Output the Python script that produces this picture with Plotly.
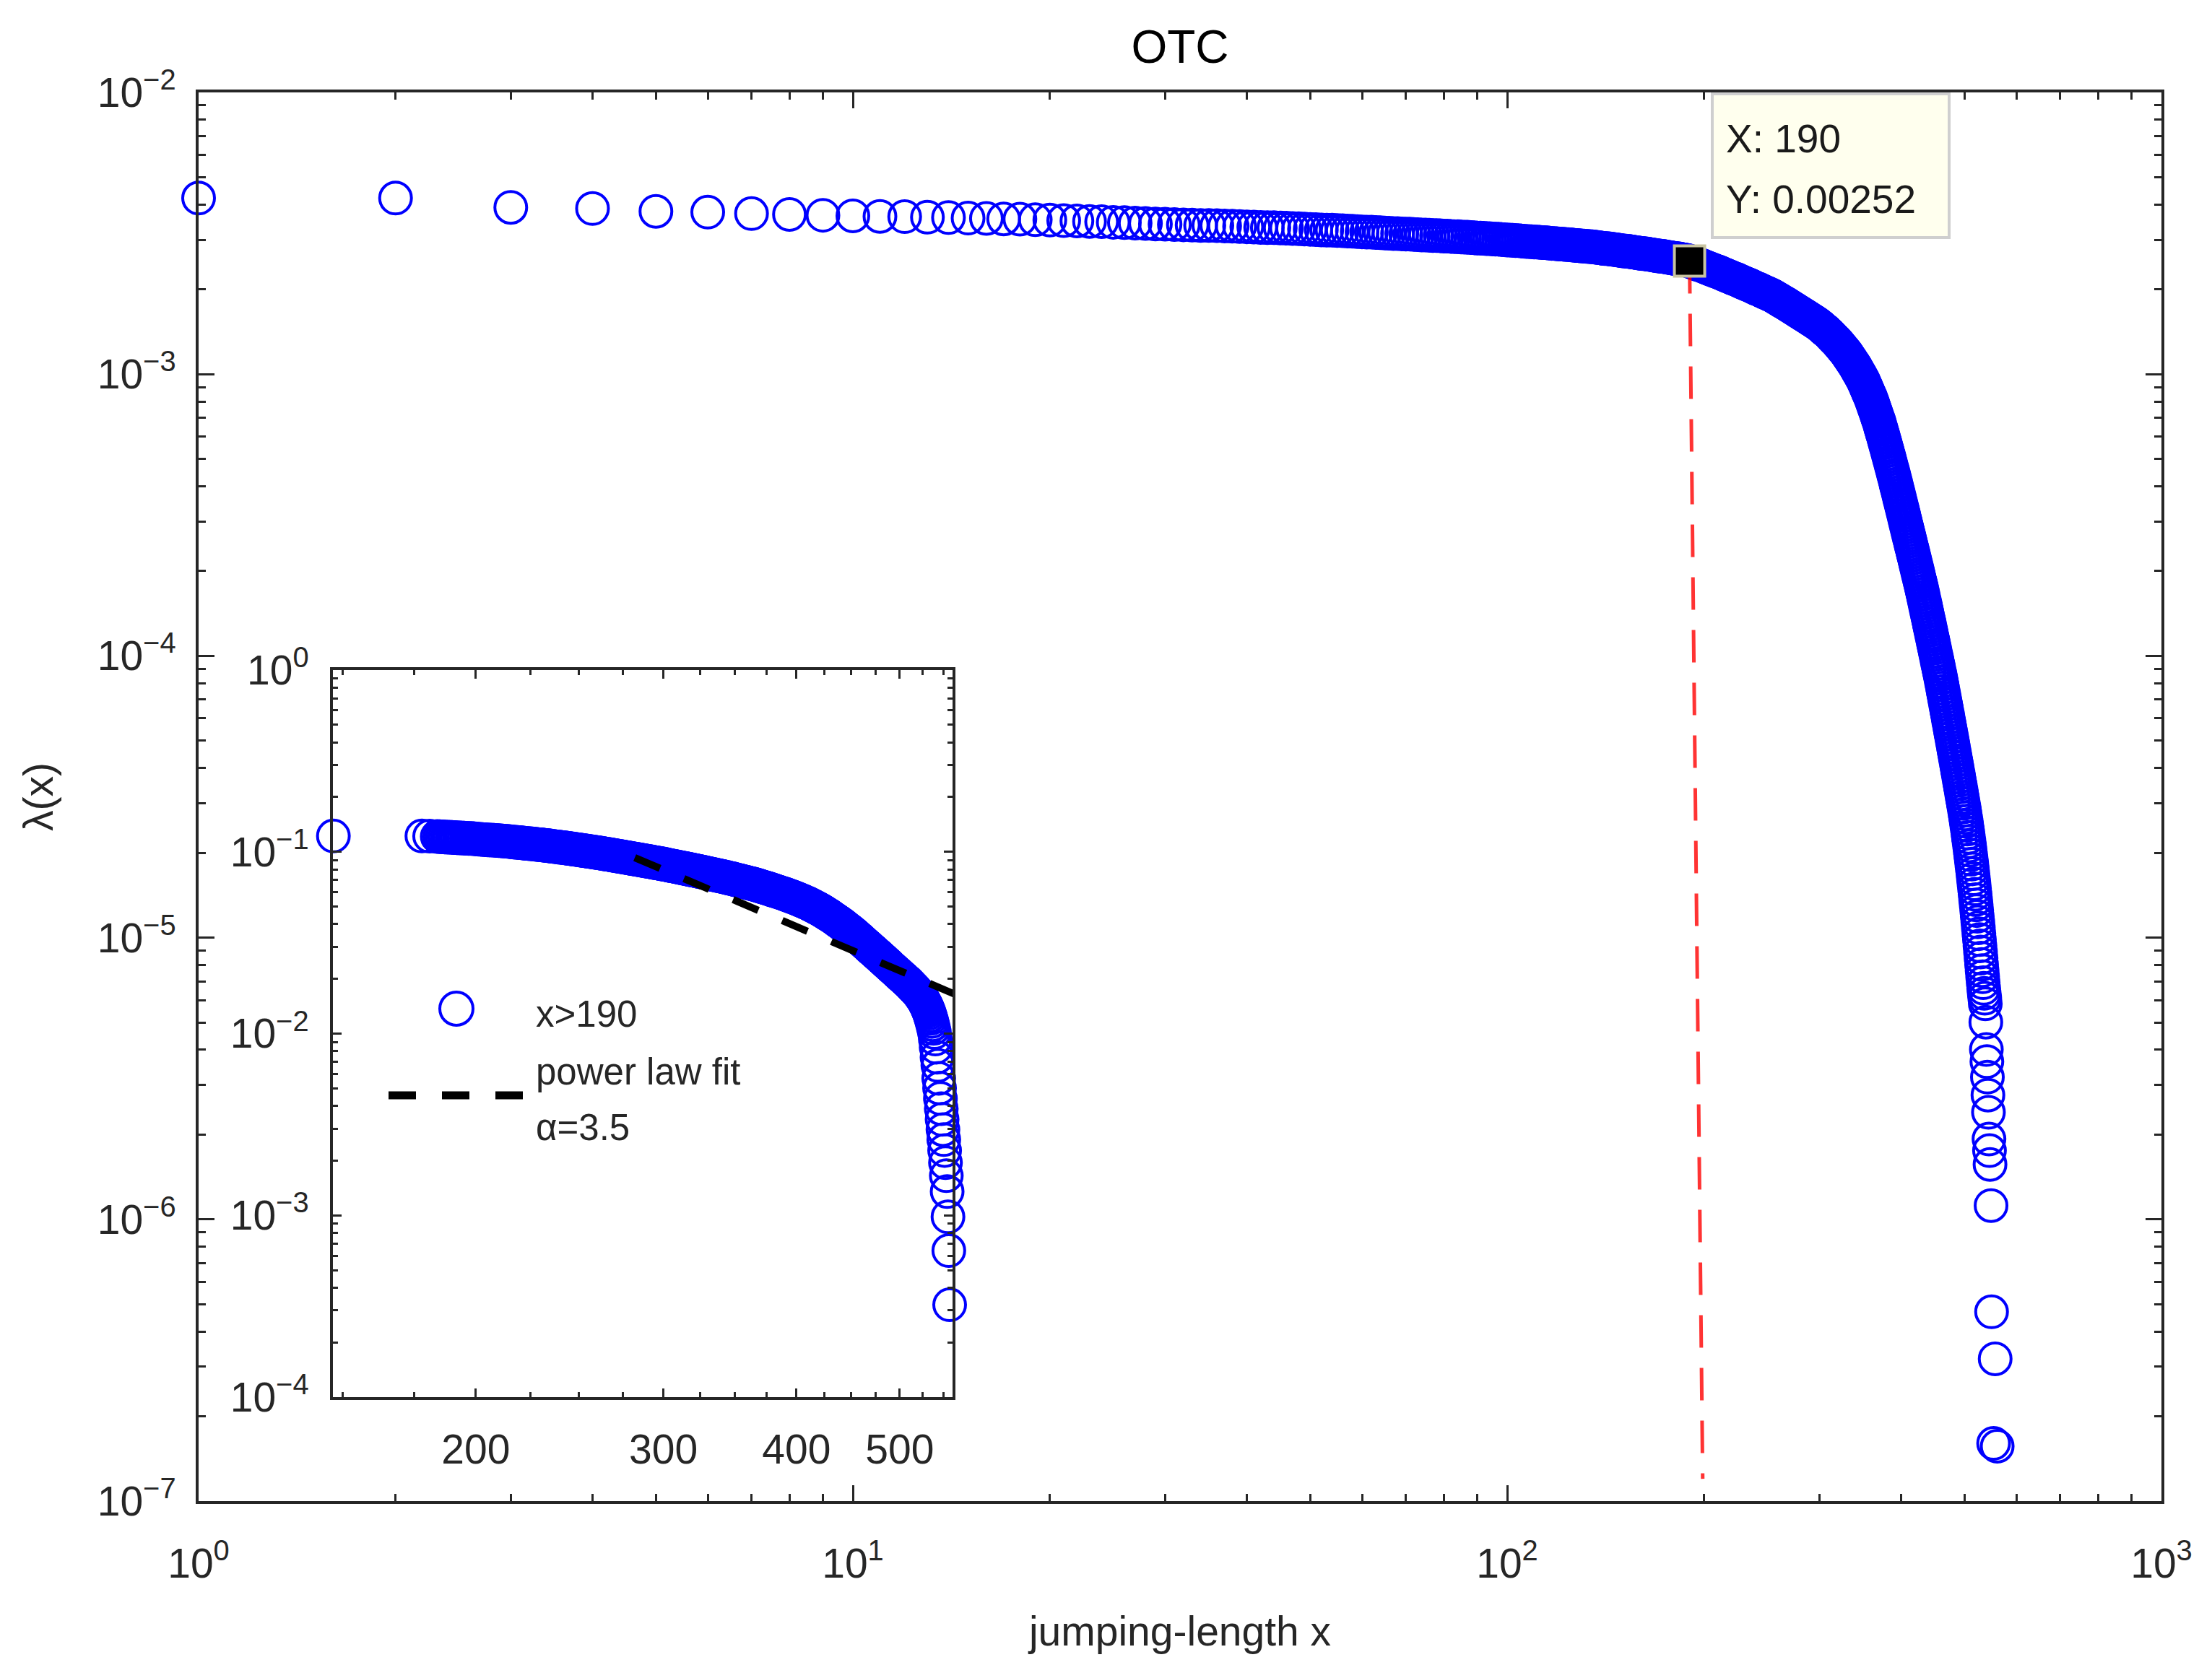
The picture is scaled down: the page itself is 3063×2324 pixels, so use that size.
import plotly.graph_objects as go

# ---------------- data ----------------
# main panel: jumping length x and log10 of lambda(x)
jump_len = list(range(1, 548)) + [549, 550, 557, 554, 561]
lam_log10 = [
    -2.375, -2.375, -2.408, -2.412, -2.422, -2.425, -2.430, -2.433, -2.436, -2.438,
    -2.440, -2.441, -2.443, -2.444, -2.446, -2.447, -2.449, -2.450, -2.452, -2.453,
    -2.455, -2.456, -2.458, -2.459, -2.461, -2.462, -2.464, -2.465, -2.467, -2.468,
    -2.469, -2.470, -2.471, -2.472, -2.472, -2.473, -2.474, -2.475, -2.476, -2.477,
    -2.478, -2.479, -2.480, -2.480, -2.481, -2.482, -2.483, -2.484, -2.485, -2.486,
    -2.487, -2.488, -2.489, -2.489, -2.490, -2.491, -2.492, -2.493, -2.494, -2.495,
    -2.496, -2.496, -2.497, -2.498, -2.499, -2.500, -2.501, -2.501, -2.502, -2.503,
    -2.503, -2.504, -2.505, -2.506, -2.506, -2.507, -2.508, -2.508, -2.509, -2.510,
    -2.510, -2.511, -2.512, -2.512, -2.513, -2.514, -2.514, -2.515, -2.516, -2.517,
    -2.517, -2.518, -2.519, -2.519, -2.520, -2.521, -2.521, -2.522, -2.523, -2.524,
    -2.524, -2.525, -2.526, -2.526, -2.527, -2.528, -2.529, -2.529, -2.530, -2.531,
    -2.531, -2.532, -2.533, -2.533, -2.534, -2.535, -2.536, -2.536, -2.537, -2.538,
    -2.538, -2.539, -2.540, -2.540, -2.541, -2.542, -2.543, -2.543, -2.544, -2.545,
    -2.545, -2.546, -2.547, -2.547, -2.548, -2.549, -2.550, -2.551, -2.552, -2.553,
    -2.554, -2.554, -2.555, -2.556, -2.557, -2.558, -2.559, -2.560, -2.561, -2.562,
    -2.563, -2.563, -2.564, -2.565, -2.566, -2.567, -2.568, -2.569, -2.570, -2.571,
    -2.572, -2.572, -2.573, -2.574, -2.575, -2.576, -2.577, -2.578, -2.579, -2.580,
    -2.581, -2.581, -2.582, -2.583, -2.584, -2.585, -2.586, -2.587, -2.588, -2.589,
    -2.590, -2.590, -2.591, -2.592, -2.593, -2.594, -2.595, -2.596, -2.597, -2.599,
    -2.601, -2.603, -2.605, -2.607, -2.609, -2.611, -2.612, -2.614, -2.616, -2.618,
    -2.620, -2.622, -2.624, -2.626, -2.628, -2.630, -2.632, -2.634, -2.635, -2.637,
    -2.639, -2.641, -2.643, -2.645, -2.647, -2.649, -2.651, -2.653, -2.655, -2.657,
    -2.659, -2.661, -2.662, -2.664, -2.666, -2.668, -2.670, -2.672, -2.674, -2.676,
    -2.678, -2.680, -2.681, -2.683, -2.685, -2.687, -2.689, -2.691, -2.693, -2.695,
    -2.697, -2.698, -2.700, -2.702, -2.704, -2.706, -2.708, -2.710, -2.712, -2.713,
    -2.715, -2.717, -2.719, -2.721, -2.723, -2.725, -2.728, -2.730, -2.732, -2.735,
    -2.737, -2.739, -2.742, -2.744, -2.746, -2.748, -2.751, -2.753, -2.755, -2.758,
    -2.760, -2.762, -2.765, -2.767, -2.769, -2.772, -2.774, -2.776, -2.779, -2.781,
    -2.783, -2.785, -2.788, -2.790, -2.792, -2.794, -2.797, -2.799, -2.801, -2.803,
    -2.806, -2.808, -2.810, -2.812, -2.815, -2.817, -2.819, -2.821, -2.824, -2.826,
    -2.829, -2.832, -2.835, -2.838, -2.841, -2.843, -2.846, -2.849, -2.852, -2.855,
    -2.858, -2.862, -2.865, -2.868, -2.872, -2.875, -2.878, -2.881, -2.885, -2.888,
    -2.892, -2.895, -2.899, -2.903, -2.907, -2.910, -2.914, -2.918, -2.921, -2.925,
    -2.930, -2.934, -2.939, -2.943, -2.948, -2.952, -2.957, -2.961, -2.966, -2.970,
    -2.975, -2.980, -2.986, -2.991, -2.996, -3.001, -3.006, -3.012, -3.017, -3.022,
    -3.029, -3.035, -3.042, -3.048, -3.055, -3.062, -3.068, -3.075, -3.081, -3.088,
    -3.096, -3.104, -3.112, -3.120, -3.128, -3.136, -3.144, -3.152, -3.160, -3.168,
    -3.177, -3.187, -3.196, -3.206, -3.215, -3.224, -3.234, -3.243, -3.253, -3.262,
    -3.272, -3.282, -3.291, -3.301, -3.311, -3.321, -3.331, -3.340, -3.350, -3.360,
    -3.370, -3.380, -3.391, -3.401, -3.411, -3.421, -3.431, -3.442, -3.452, -3.462,
    -3.472, -3.482, -3.492, -3.502, -3.513, -3.523, -3.533, -3.543, -3.553, -3.563,
    -3.573, -3.583, -3.593, -3.603, -3.613, -3.622, -3.632, -3.642, -3.652, -3.662,
    -3.672, -3.682, -3.691, -3.701, -3.711, -3.721, -3.731, -3.740, -3.750, -3.760,
    -3.771, -3.781, -3.792, -3.803, -3.813, -3.824, -3.835, -3.845, -3.856, -3.867,
    -3.877, -3.888, -3.899, -3.909, -3.920, -3.931, -3.941, -3.952, -3.963, -3.973,
    -3.984, -3.995, -4.005, -4.016, -4.027, -4.037, -4.048, -4.059, -4.069, -4.080,
    -4.092, -4.103, -4.115, -4.127, -4.138, -4.150, -4.162, -4.173, -4.185, -4.197,
    -4.208, -4.220, -4.232, -4.243, -4.255, -4.267, -4.278, -4.290, -4.302, -4.313,
    -4.325, -4.337, -4.348, -4.360, -4.372, -4.383, -4.395, -4.407, -4.418, -4.430,
    -4.442, -4.454, -4.465, -4.477, -4.489, -4.501, -4.512, -4.524, -4.536, -4.548,
    -4.561, -4.574, -4.587, -4.601, -4.615, -4.629, -4.644, -4.659, -4.674, -4.690,
    -4.706, -4.722, -4.739, -4.756, -4.773, -4.791, -4.809, -4.827, -4.846, -4.865,
    -4.884, -4.904, -4.924, -4.944, -4.965, -4.986, -5.007, -5.029, -5.051, -5.073,
    -5.095, -5.117, -5.139, -5.160, -5.180, -5.198, -5.215, -5.235, -5.300, -5.397,
    -5.440, -5.495, -5.559, -5.620, -5.715, -5.756, -5.805,
    -5.951, -6.328, -6.495, -6.795, -6.805,
]
lam = [10.0 ** v for v in lam_log10]

# data tip / cut-off
tip_x = 190
tip_y = 0.00252
cut_line_x = [190, 199]
cut_line_y = [0.00252, 1.2e-7]

# inset panel: tail region, log10 of the plotted distribution
inset_x = [147, 178, 181, 184, 185] + list(range(186, 558))
inset_log10 = [
    -0.913, -0.913, -0.914, -0.916, -0.917,
    -0.918, -0.919, -0.920, -0.920, -0.921,
    -0.922, -0.923, -0.924, -0.924, -0.925, -0.926, -0.927, -0.927, -0.928, -0.929,
    -0.930, -0.931, -0.932, -0.933, -0.934, -0.935, -0.935, -0.936, -0.937, -0.938,
    -0.939, -0.940, -0.941, -0.942, -0.943, -0.945, -0.946, -0.947, -0.948, -0.949,
    -0.950, -0.952, -0.953, -0.954, -0.955, -0.956, -0.957, -0.959, -0.960, -0.961,
    -0.962, -0.964, -0.965, -0.966, -0.968, -0.969, -0.971, -0.972, -0.973, -0.975,
    -0.976, -0.977, -0.979, -0.980, -0.982, -0.983, -0.985, -0.986, -0.988, -0.989,
    -0.991, -0.992, -0.994, -0.995, -0.997, -0.998, -1.000, -1.001, -1.003, -1.004,
    -1.006, -1.007, -1.009, -1.011, -1.012, -1.014, -1.015, -1.017, -1.019, -1.020,
    -1.022, -1.024, -1.025, -1.027, -1.028, -1.030, -1.032, -1.033, -1.035, -1.037,
    -1.038, -1.040, -1.041, -1.043, -1.044, -1.046, -1.048, -1.049, -1.051, -1.052,
    -1.054, -1.055, -1.057, -1.059, -1.060, -1.062, -1.063, -1.065, -1.066, -1.068,
    -1.070, -1.071, -1.073, -1.075, -1.076, -1.078, -1.079, -1.081, -1.083, -1.084,
    -1.086, -1.088, -1.089, -1.091, -1.092, -1.094, -1.096, -1.097, -1.099, -1.101,
    -1.102, -1.104, -1.106, -1.107, -1.109, -1.111, -1.112, -1.114, -1.116, -1.118,
    -1.119, -1.121, -1.123, -1.124, -1.126, -1.128, -1.129, -1.131, -1.133, -1.134,
    -1.136, -1.138, -1.139, -1.141, -1.143, -1.145, -1.147, -1.148, -1.150, -1.152,
    -1.154, -1.156, -1.157, -1.159, -1.161, -1.163, -1.165, -1.166, -1.168, -1.170,
    -1.172, -1.174, -1.175, -1.177, -1.179, -1.181, -1.183, -1.185, -1.187, -1.190,
    -1.192, -1.194, -1.196, -1.198, -1.200, -1.202, -1.204, -1.207, -1.209, -1.211,
    -1.213, -1.215, -1.217, -1.219, -1.221, -1.224, -1.226, -1.228, -1.230, -1.232,
    -1.234, -1.237, -1.239, -1.242, -1.244, -1.246, -1.249, -1.251, -1.254, -1.256,
    -1.259, -1.262, -1.264, -1.267, -1.270, -1.272, -1.275, -1.278, -1.281, -1.283,
    -1.286, -1.290, -1.293, -1.296, -1.299, -1.302, -1.306, -1.309, -1.312, -1.315,
    -1.319, -1.322, -1.326, -1.330, -1.333, -1.337, -1.341, -1.345, -1.348, -1.352,
    -1.356, -1.360, -1.364, -1.368, -1.372, -1.376, -1.380, -1.384, -1.388, -1.392,
    -1.397, -1.401, -1.406, -1.410, -1.415, -1.419, -1.424, -1.428, -1.433, -1.437,
    -1.442, -1.447, -1.451, -1.456, -1.461, -1.466, -1.471, -1.476, -1.481, -1.485,
    -1.490, -1.495, -1.500, -1.505, -1.510, -1.514, -1.519, -1.524, -1.529, -1.534,
    -1.539, -1.543, -1.548, -1.553, -1.558, -1.563, -1.567, -1.572, -1.577, -1.582,
    -1.587, -1.592, -1.596, -1.601, -1.606, -1.611, -1.616, -1.620, -1.625, -1.630,
    -1.635, -1.639, -1.644, -1.648, -1.653, -1.658, -1.662, -1.667, -1.671, -1.676,
    -1.681, -1.685, -1.690, -1.694, -1.699, -1.704, -1.708, -1.713, -1.717, -1.722,
    -1.727, -1.732, -1.738, -1.743, -1.748, -1.753, -1.758, -1.764, -1.769, -1.774,
    -1.780, -1.786, -1.793, -1.800, -1.807, -1.815, -1.823, -1.832, -1.841, -1.851,
    -1.862, -1.874, -1.887, -1.901, -1.916, -1.933, -1.951, -1.971, -1.994, -2.030,
    -2.075, -2.130, -2.175, -2.246, -2.300, -2.357, -2.413, -2.472, -2.528, -2.583,
    -2.643, -2.710, -2.782, -2.869, -3.008, -3.194, -3.492,
]
inset_y = [10.0 ** v for v in inset_log10]

# power-law fit (alpha = 3.5) end points as read in the inset
fit_x = [282, 600]
fit_y = [0.0929, 0.01406]

legend_labels = ["x>190", "power law fit", "\u03b1=3.5"]

main_xtick_vals = [1, 10, 100, 1000]
main_xtick_text = ["10<sup>0</sup>", "10<sup>1</sup>", "10<sup>2</sup>", "10<sup>3</sup>"]
main_ytick_vals = [1e-7, 1e-6, 1e-5, 1e-4, 1e-3, 1e-2]
main_ytick_text = ["10<sup>\u22127</sup>", "10<sup>\u22126</sup>", "10<sup>\u22125</sup>",
                   "10<sup>\u22124</sup>", "10<sup>\u22123</sup>", "10<sup>\u22122</sup>"]
inset_xtick_vals = [200, 300, 400, 500]
inset_xtick_text = ["200", "300", "400", "500"]
inset_xminor_vals = [150, 175, 225, 250, 275, 325, 350, 375, 425, 450, 475, 525, 550]
inset_ytick_vals = [1e-4, 1e-3, 1e-2, 1e-1, 1]
inset_ytick_text = ["10<sup>\u22124</sup>", "10<sup>\u22123</sup>", "10<sup>\u22122</sup>",
                    "10<sup>\u22121</sup>", "10<sup>0</sup>"]

# ---------------- layout geometry (pixels of the 3063x2324 page) ----------------
W, H = 3063, 2324
L, R, T, B = 267, 2985, 120, 2071


def pxx(p):
    return (p - L) / (R - L)


def pxy(p):
    return (B - p) / (B - T)


FONT = "Liberation Sans, Arial, Helvetica, sans-serif"
AX = "#262626"
BLUE = "#0000ff"

fig = go.Figure()

fig.add_trace(go.Scatter(
    x=jump_len, y=lam, mode="markers", xaxis="x", yaxis="y", showlegend=False,
    cliponaxis=False,
    marker=dict(symbol="circle-open", size=44, color=BLUE, line=dict(width=4, color=BLUE)),
    hoverinfo="skip"))
fig.add_trace(go.Scatter(
    x=cut_line_x, y=cut_line_y, mode="lines", xaxis="x", yaxis="y", showlegend=False,
    line=dict(color="rgba(255,0,0,0.8)", width=5, dash="45px,28px"), hoverinfo="skip"))
fig.add_trace(go.Scatter(
    x=[tip_x], y=[tip_y], mode="markers", xaxis="x", yaxis="y", showlegend=False,
    marker=dict(symbol="square", size=42, color="black", line=dict(color="#c8c4a0", width=4)),
    hoverinfo="skip"))

fig.add_trace(go.Scatter(
    x=inset_x, y=inset_y, mode="markers", xaxis="x2", yaxis="y2", showlegend=False,
    cliponaxis=False,
    marker=dict(symbol="circle-open", size=44, color=BLUE, line=dict(width=4, color=BLUE)),
    hoverinfo="skip"))
fig.add_trace(go.Scatter(
    x=fit_x, y=fit_y, mode="lines", xaxis="x2", yaxis="y2", showlegend=False,
    line=dict(color="black", width=10, dash="38px,36px"), hoverinfo="skip"))

main_xminor = [m * 10 ** e for e in range(0, 3) for m in range(2, 10)]
main_yminor = [m * 10.0 ** e for e in range(-7, -2) for m in range(2, 10)]
inset_yminor = [m * 10.0 ** e for e in range(-4, 0) for m in range(2, 10)]

common = dict(type="log", showline=True, linecolor=AX, linewidth=4, mirror="ticks",
              ticks="inside", tickcolor=AX, tickwidth=3, showgrid=False, zeroline=False,
              tickmode="array", tickfont=dict(family=FONT, size=57, color=AX))

fig.update_layout(
    width=W, height=H,
    margin=dict(l=L, r=W - R, t=T, b=H - B, autoexpand=False),
    paper_bgcolor="white", plot_bgcolor="white",
    font=dict(family=FONT, color=AX),
    title=dict(text="OTC", x=0.5, xref="paper", xanchor="center", y=1 - 57 / H,
               yref="container", yanchor="middle", font=dict(family=FONT, size=64, color="black")),
    xaxis=dict(common, range=[0, 3], domain=[0, 1], anchor="y", ticklen=22,
               tickvals=main_xtick_vals, ticktext=main_xtick_text, ticklabelstandoff=34,
               minor=dict(ticks="inside", ticklen=10, tickwidth=3, tickcolor=AX,
                          tickmode="array", tickvals=main_xminor, showgrid=False),
               title=dict(text="jumping-length x", standoff=44,
                          font=dict(family=FONT, size=57, color=AX))),
    yaxis=dict(common, range=[-7, -2], domain=[0, 1], anchor="x", ticklen=22,
               tickvals=main_ytick_vals, ticktext=main_ytick_text, ticklabelstandoff=16,
               minor=dict(ticks="inside", ticklen=10, tickwidth=3, tickcolor=AX,
                          tickmode="array", tickvals=main_yminor, showgrid=False),
               title=dict(text="\u03bb(x)", standoff=44,
                          font=dict(family=FONT, size=57, color=AX))),
    xaxis2=dict(common, range=[2.16688, 2.74857], domain=[pxx(453), pxx(1311)], anchor="y2",
                ticklen=12, tickvals=inset_xtick_vals, ticktext=inset_xtick_text,
                ticklabelstandoff=20,
                minor=dict(ticks="inside", ticklen=7, tickwidth=3, tickcolor=AX,
                           tickmode="array", tickvals=inset_xminor_vals, showgrid=False)),
    yaxis2=dict(common, range=[-4, 0], domain=[pxy(1927), pxy(920)], anchor="x2",
                ticklen=12, tickvals=inset_ytick_vals, ticktext=inset_ytick_text,
                ticklabelstandoff=18,
                minor=dict(ticks="inside", ticklen=7, tickwidth=3, tickcolor=AX,
                           tickmode="array", tickvals=inset_yminor, showgrid=False)),
)

shapes = [
    # data tip box
    dict(type="rect", xref="paper", yref="paper", x0=pxx(2363), x1=pxx(2691),
         y0=pxy(321), y1=pxy(122), fillcolor="#ffffee", line=dict(color="#cfcfcf", width=4),
         layer="above"),
    # inset legend symbols
    dict(type="circle", xref="paper", yref="paper", x0=pxx(601), x1=pxx(647),
         y0=pxy(1412), y1=pxy(1366), line=dict(color=BLUE, width=4), fillcolor="rgba(0,0,0,0)"),
    dict(type="line", xref="paper", yref="paper", x0=pxx(530), x1=pxx(716),
         y0=pxy(1509), y1=pxy(1509), line=dict(color="black", width=11, dash="38px,36px")),
]
annotations = [
    dict(text=f"X: {tip_x}", xref="paper", yref="paper", x=pxx(2380), y=pxy(184),
         xanchor="left", yanchor="middle", showarrow=False,
         font=dict(family=FONT, size=55, color="#1a1a1a")),
    dict(text=f"Y: {tip_y}", xref="paper", yref="paper", x=pxx(2380), y=pxy(268),
         xanchor="left", yanchor="middle", showarrow=False,
         font=dict(family=FONT, size=55, color="#1a1a1a")),
    dict(text=legend_labels[0], xref="paper", yref="paper", x=pxx(732), y=pxy(1396),
         xanchor="left", yanchor="middle", showarrow=False,
         font=dict(family=FONT, size=51, color=AX)),
    dict(text=legend_labels[1], xref="paper", yref="paper", x=pxx(732), y=pxy(1476),
         xanchor="left", yanchor="middle", showarrow=False,
         font=dict(family=FONT, size=51, color=AX)),
    dict(text=legend_labels[2], xref="paper", yref="paper", x=pxx(732), y=pxy(1553),
         xanchor="left", yanchor="middle", showarrow=False,
         font=dict(family=FONT, size=51, color=AX)),
]
fig.update_layout(shapes=shapes, annotations=annotations)

fig.write_html("out.html")
